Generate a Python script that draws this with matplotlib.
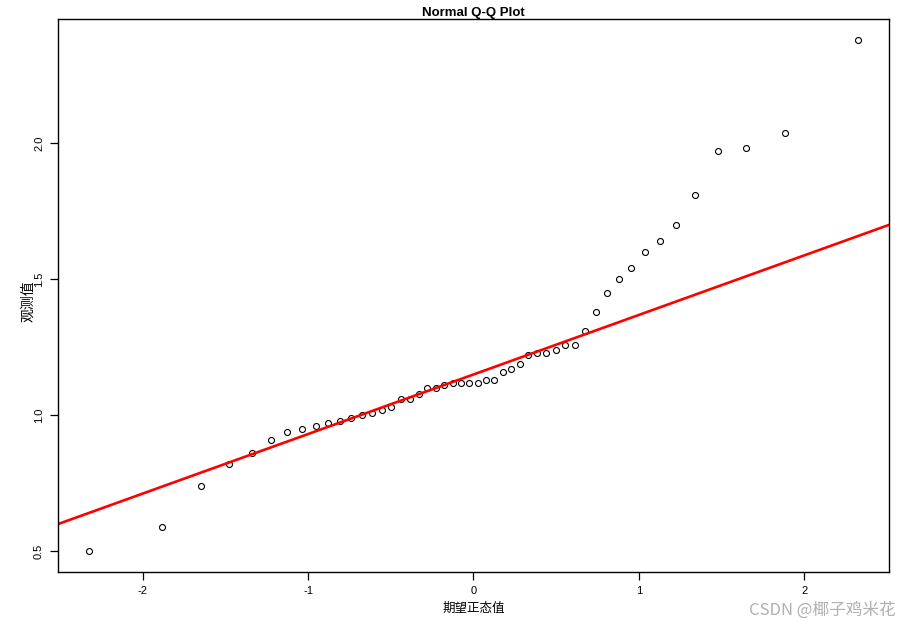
import numpy as np
import matplotlib
matplotlib.use("Agg")
import matplotlib.pyplot as plt

plt.rcParams['font.family'] = ['Liberation Sans', 'Noto Sans CJK SC', 'DejaVu Sans']

# theoretical normal quantiles (n = 50)
theo_q = [-2.326, -1.881, -1.645, -1.476, -1.341, -1.227, -1.126, -1.036, -0.954, -0.878,
          -0.806, -0.739, -0.674, -0.613, -0.553, -0.496, -0.440, -0.385, -0.332, -0.279,
          -0.228, -0.176, -0.126, -0.075, -0.025, 0.025, 0.075, 0.126, 0.176, 0.228,
          0.279, 0.332, 0.385, 0.440, 0.496, 0.553, 0.613, 0.674, 0.739, 0.806,
          0.878, 0.954, 1.036, 1.126, 1.227, 1.341, 1.476, 1.645, 1.881, 2.326]

# observed (sorted) values
obs = [0.50, 0.59, 0.74, 0.82, 0.86, 0.91, 0.94, 0.95, 0.96, 0.97,
       0.98, 0.99, 1.00, 1.01, 1.02, 1.03, 1.06, 1.06, 1.08, 1.10,
       1.10, 1.11, 1.12, 1.12, 1.12, 1.12, 1.13, 1.13, 1.16, 1.17,
       1.19, 1.22, 1.23, 1.23, 1.24, 1.26, 1.26, 1.31, 1.38, 1.45,
       1.50, 1.54, 1.60, 1.64, 1.70, 1.81, 1.97, 1.98, 2.035, 2.38]

x_ticks = [-2, -1, 0, 1, 2]
y_ticks = [0.5, 1.0, 1.5, 2.0]

x = np.array(theo_q)
y = np.array(obs)

# qqline: line through the 1st and 3rd quartiles
q1, q3 = np.quantile(y, [0.25, 0.75])
z1, z3 = -0.6745, 0.6745
slope = (q3 - q1) / (z3 - z1)
intercept = q1 - slope * z1

fig = plt.figure(figsize=(9.09, 6.30), dpi=100)
ax = fig.add_axes([0.0638, 0.0921, 0.9142, 0.8777])

ax.plot(x, y, linestyle='none', marker='o', ms=4.3, mfc='none', mec='black', mew=0.8)

# R-style 4% extension of the ranges
xr = x.max() - x.min()
yr = y.max() - y.min()
ax.set_xlim(x.min() - 0.04 * xr, x.max() + 0.04 * xr)
ax.set_ylim(y.min() - 0.04 * yr, y.max() + 0.04 * yr)

xl = np.array(ax.get_xlim())
ax.plot(xl, intercept + slope * xl, color='red', lw=1.9)

ax.set_xticks(x_ticks)
ax.set_xticklabels([str(t) for t in x_ticks])
ax.set_yticks(y_ticks)
ax.set_yticklabels([f"{t:.1f}" for t in y_ticks], rotation=90, va='center')
ax.tick_params(direction='out', length=6, width=0.9, labelsize=8)
ax.tick_params(axis='x', pad=4)
ax.tick_params(axis='y', pad=4)

for s in ax.spines.values():
    s.set_linewidth(1.0)

ax.set_title("Normal Q-Q Plot", fontsize=9.5, fontweight='bold', pad=2)
ax.set_xlabel("期望正态值", fontsize=9, labelpad=4,
              family=['Noto Sans CJK SC', 'DejaVu Sans'])
ax.set_ylabel("观测值", fontsize=10, family=['Noto Sans CJK SC', 'DejaVu Sans'])
ax.yaxis.set_label_coords(-0.027, 0.49)

fig.text(0.985, 0.018, "CSDN @椰子鸡米花", ha='right', va='bottom', fontsize=12,
         color='#b0b0b0', family=['Noto Sans CJK SC', 'DejaVu Sans'])

fig.savefig("out.png", dpi=100)
